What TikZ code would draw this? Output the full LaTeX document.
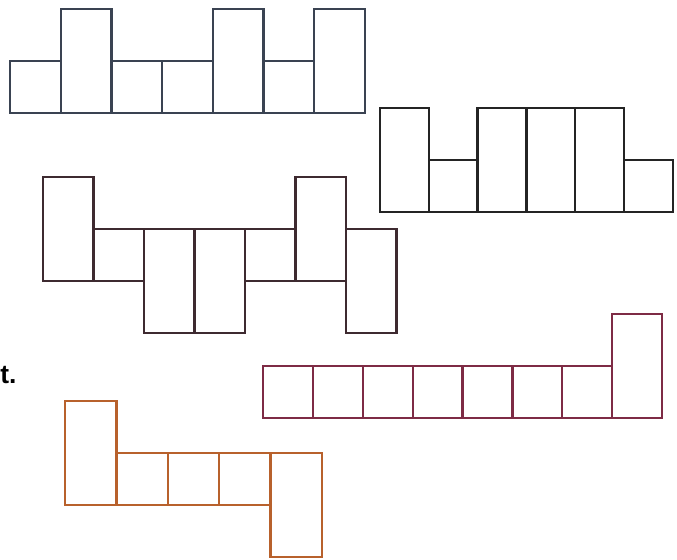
\documentclass[tikz,border=0pt]{standalone}
\usepackage{fontspec}
\setsansfont{Liberation Sans}
\usepackage{tikz}
\usetikzlibrary{positioning}
\definecolor{Slate}{HTML}{3A4352}
\definecolor{Ink}{HTML}{242424}
\definecolor{Umber}{HTML}{3E2A30}
\definecolor{Plum}{HTML}{7E2B45}
\definecolor{Rust}{HTML}{B8612C}

\begin{document}
\begin{tikzpicture}[x=0.02cm,y=-0.02cm,
    cell/.style={draw,inner sep=0pt,outer sep=0pt,line width=1.3pt,minimum width=1cm},
    sq/.style={cell,minimum height=1.04cm},
    tall/.style={cell,minimum height=2.08cm}
]
\useasboundingbox (0,0) rectangle (677,560);

% first net (top left)
\begin{scope}[cell/.append style={draw=Slate,minimum width=1.014cm}]
\node[sq,anchor=south west] (a1) at (10,113) {};
\node[tall,anchor=south west] (a2) at (a1.south east) {};
\node[sq,anchor=south west] (a3) at (a2.south east) {};
\node[sq,anchor=south west] (a4) at (a3.south east) {};
\node[tall,anchor=south west] (a5) at (a4.south east) {};
\node[sq,anchor=south west] (a6) at (a5.south east) {};
\node[tall,anchor=south west] (a7) at (a6.south east) {};
\end{scope}

% second net (top right)
\begin{scope}[cell/.append style={draw=Ink,minimum width=0.976cm}]
\node[tall,anchor=south west] (b1) at (380,212) {};
\node[sq,anchor=south west] (b2) at (b1.south east) {};
\node[tall,anchor=south west] (b3) at (b2.south east) {};
\node[tall,anchor=south west] (b4) at (b3.south east) {};
\node[tall,anchor=south west] (b5) at (b4.south east) {};
\node[sq,anchor=south west] (b6) at (b5.south east) {};
\end{scope}

% third net
\begin{scope}[cell/.append style={draw=Umber,minimum width=1.01cm}]
\node[tall,anchor=south west] (c1) at (43,281) {};
\node[sq,anchor=south west] (c2) at (c1.south east) {};
\node[tall,anchor=north west] (c3) at (c2.north east) {};
\node[tall,anchor=north west] (c4) at (c3.north east) {};
\node[sq,anchor=north west] (c5) at (c4.north east) {};
\node[tall,anchor=south west] (c6) at (c5.south east) {};
\node[tall,anchor=north west] (c7) at (c6.east |- c5.north) {};
\end{scope}

% fourth net
\begin{scope}[cell/.append style={draw=Plum,minimum width=0.998cm}]
\node[sq,anchor=south west] (d1) at (263,418) {};
\foreach \i [count=\j from 2] in {1,...,6}
  \node[sq,anchor=south west] (d\j) at (d\i.south east) {};
\node[tall,anchor=south west] (d8) at (d7.south east) {};
\end{scope}

% fifth net
\begin{scope}[cell/.append style={draw=Rust,minimum width=1.028cm}]
\node[tall,anchor=south west] (e1) at (65,505) {};
\node[sq,anchor=south west] (e2) at (e1.south east) {};
\node[sq,anchor=south west] (e3) at (e2.south east) {};
\node[sq,anchor=south west] (e4) at (e3.south east) {};
\node[tall,anchor=north west] (e5) at (e4.north east) {};
\end{scope}

\node[anchor=base west,inner sep=0pt,font=\sffamily\bfseries\fontsize{15}{18}\selectfont] (tag) at (0,384) {t.};
\end{tikzpicture}
\end{document}
